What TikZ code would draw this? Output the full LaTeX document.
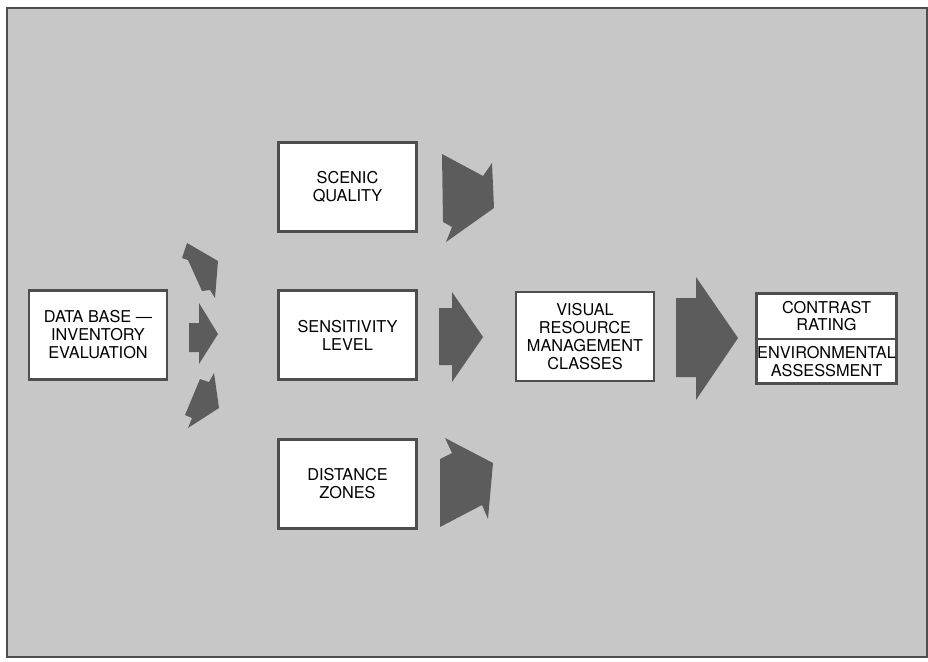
\documentclass[tikz,border=0pt]{standalone}
\usepackage{fontspec}
\setmainfont{TeX Gyre Heros}
\definecolor{paper}{HTML}{C7C7C7}
\definecolor{boxline}{HTML}{4E4E4E}
\definecolor{arrowgray}{HTML}{5C5C5C}
\tikzset{
    box/.style={draw=boxline, line width=2.6pt, fill=white, inner sep=0pt,
        minimum width=138pt, minimum height=89pt, align=center,
        font=\fontsize{16.3}{18}\selectfont},
    label/.style={inner sep=0pt, align=center, font=\fontsize{16.3}{17.5}\selectfont},
    blockarrow/.style={fill=arrowgray}
}
\begin{document}
\begin{tikzpicture}[x=1pt, y=-1pt]
    \useasboundingbox (0, 0) rectangle (928, 661);
    \fill[white] (0, 0) rectangle (928, 661);
    \draw[boxline, line width=2pt, fill=paper] (7, 8) rectangle (927, 657);

    % boxes
    \node[box] (data) at (98, 335) {DATA BASE ---\\INVENTORY\\EVALUATION};
    \node[box] (scenic) at (347.5, 187) {SCENIC\\QUALITY};
    \node[box] (sens) at (347.5, 335) {SENSITIVITY\\LEVEL};
    \node[box] (dist) at (347.5, 484) {DISTANCE\\ZONES};
    \node[box] (vrm) at (585, 336.5) {VISUAL\\RESOURCE\\MANAGEMENT\\CLASSES};
    \node[box, minimum width=140pt, minimum height=90pt] (ratings) at (826.5, 338.5) {};
    \draw[boxline, line width=2pt] (ratings.west) -- (ratings.east);
    \node[label] (contrast) at (826.5, 316) {CONTRAST\\RATING};
    \node[label] (env) at (826.5, 361.5) {ENVIRONMENTAL\\ASSESSMENT};

    % small arrows out of the data base
    \fill[blockarrow] (187, 243) -- (218, 261) -- (215, 298) -- (210, 290)
        -- (202, 291) -- (188, 260) -- (182, 258) -- cycle;
    \fill[blockarrow] (189, 323) -- (199, 323) -- (199, 303) -- (218, 334)
        -- (199, 364) -- (199, 352) -- (189, 352) -- cycle;
    \fill[blockarrow] (214, 373) -- (219, 408) -- (188, 428) -- (192, 418)
        -- (185, 415) -- (200, 379) -- (209, 382) -- cycle;

    % arrows out of the three factors
    \fill[blockarrow] (442, 154) -- (483, 176) -- (492, 163) -- (494, 208)
        -- (446, 242) -- (452, 227) -- (443, 222) -- cycle;
    \fill[blockarrow] (439, 308) -- (452, 308) -- (452, 292) -- (483, 337)
        -- (452, 382) -- (452, 365) -- (439, 365) -- cycle;
    \fill[blockarrow] (445, 438) -- (452, 453) -- (440, 459) -- (440, 527)
        -- (482, 505) -- (488, 519) -- (493, 463) -- cycle;

    % big arrow to the ratings
    \fill[blockarrow] (676, 298) -- (696, 298) -- (696, 277) -- (738, 338)
        -- (696, 400) -- (696, 377) -- (676, 377) -- cycle;
\end{tikzpicture}
\end{document}
